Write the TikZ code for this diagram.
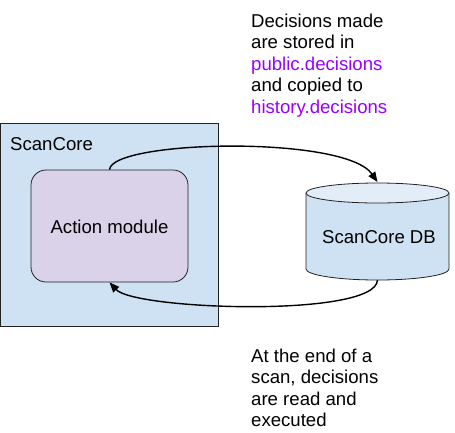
\documentclass[tikz,border=0pt]{standalone}
\usepackage{fontspec}
\setmainfont{Liberation Sans}
\usetikzlibrary{arrows.meta}
\definecolor{scfill}{HTML}{CFE2F3}
\definecolor{actfill}{HTML}{D9D2E9}
\definecolor{dbtopfill}{HTML}{E3EDF8}
\definecolor{purp}{HTML}{9900FF}
\definecolor{edge}{HTML}{222222}
\tikzset{
  txt/.style={font=\fontsize{18.6}{21.5}\selectfont, inner sep=0pt, text=black},
  frame/.style={draw=edge, line width=0.8pt},
  flow/.style={draw=black, line width=1.4pt, -{Triangle[length=10pt,width=8pt]}},
}
\begin{document}
\begin{tikzpicture}[x=1pt,y=-1pt]
\useasboundingbox (0,0) rectangle (455,432);
% ScanCore container
\node[frame, fill=scfill, rectangle, minimum width=217.5pt, minimum height=203.5pt, inner sep=0pt] (sc) at (109.25,224.75) {};
\node[txt, anchor=base west] (sclabel) at (10,150) {ScanCore};
% Action module
\node[frame, fill=actfill, rectangle, rounded corners=15pt, minimum width=157pt, minimum height=112pt, inner sep=0pt] (act) at (109.5,226) {};
\node[txt, anchor=base] (actlabel) at (109.5,233) {Action module};
% Database cylinder
\path[fill=scfill] (306,193) -- (306,269) arc[start angle=180,end angle=360,x radius=71.5pt,y radius=11pt] -- (449,193) -- cycle;
\draw[frame] (306,193) -- (306,269) arc[start angle=180,end angle=360,x radius=71.5pt,y radius=11pt] -- (449,193);
\draw[frame, fill=dbtopfill] (377.5,193) ellipse[x radius=71.5pt, y radius=10pt];
\node[txt, anchor=base] (db) at (379,243) {ScanCore DB};
\coordinate (dbtop) at (377.5,182);
\coordinate (dbbot) at (377.5,280);
% Connectors
\draw[flow] (act.north) .. controls (112,140) and (345,135) .. (dbtop);
\draw[flow] (dbbot) .. controls (376,318) and (135,310) .. (act.south);
% Notes
\node[txt, anchor=north west, align=left] (note1) at (251,13.5) {Decisions made\\are stored in\\\textcolor{purp}{public.decisions}\\and copied to\\\textcolor{purp}{history.decisions}};
\node[txt, anchor=north west, align=left] (note2) at (251,348.4) {At the end of a\\scan, decisions\\are read and\\executed};
\end{tikzpicture}
\end{document}
